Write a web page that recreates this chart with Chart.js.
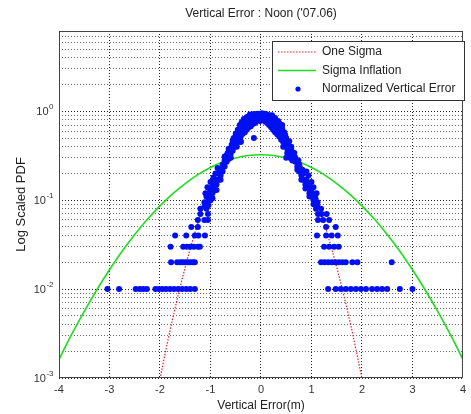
<!DOCTYPE html>
<html>
<head>
<meta charset="utf-8">
<script src="https://cdn.jsdelivr.net/npm/chart.js@4.4.0/dist/chart.umd.min.js"></script>
<style>
  html, body { margin: 0; padding: 0; background: #fff; }
</style>
</head>
<body>
<canvas id="chart" width="471" height="414"></canvas>
<script>
// ---- data ----
const titleText = "Vertical Error : Noon ('07.06)";
const xTitle = 'Vertical Error(m)';
const yTitle = 'Log Scaled PDF';
const seriesNames = ['One Sigma', 'Sigma Inflation', 'Normalized Vertical Error'];

const xTicks = [-4, -3, -2, -1, 0, 1, 2, 3, 4];
const yDecades = [0.001, 0.01, 0.1, 1];
const yExponents = ['-3', '-2', '-1', '0'];
const yGrid = [0.001, 0.002, 0.003, 0.004, 0.005, 0.006, 0.007, 0.008, 0.009,
               0.01, 0.02, 0.03, 0.04, 0.05, 0.06, 0.07, 0.08, 0.09,
               0.1, 0.2, 0.3, 0.4, 0.5, 0.6, 0.7, 0.8, 0.9,
               1, 2, 3, 4, 5, 6, 7, 8];

// red dotted curve (One Sigma)
const sigmaX = [-2.0, -1.9, -1.8, -1.7, -1.6, -1.5, -1.4, -1.3, -1.2, -1.1, -1.0, -0.9, -0.8, -0.7, -0.6, -0.5, -0.4, -0.3, -0.2, -0.1,
                0.0, 0.1, 0.2, 0.3, 0.4, 0.5, 0.6, 0.7, 0.8, 0.9, 1.0, 1.1, 1.2, 1.3, 1.4, 1.5, 1.6, 1.7, 1.8, 1.9, 2.0];
const sigmaY = [0.00098, 0.00187, 0.00346, 0.00615, 0.0106, 0.0177, 0.0286, 0.0447, 0.0676, 0.0988, 0.140, 0.191, 0.253, 0.325, 0.403, 0.483, 0.560, 0.629, 0.683, 0.718,
                0.730, 0.718, 0.683, 0.629, 0.560, 0.483, 0.403, 0.325, 0.253, 0.191, 0.140, 0.0988, 0.0676, 0.0447, 0.0286, 0.0177, 0.0106, 0.00615, 0.00346, 0.00187, 0.00098];

// green curve (Sigma Inflation)
const inflX = [-4, -3.75, -3.5, -3.25, -3, -2.75, -2.5, -2.25, -2, -1.75, -1.5, -1.25, -1, -0.75, -0.5, -0.25,
               0, 0.25, 0.5, 0.75, 1, 1.25, 1.5, 1.75, 2, 2.25, 2.5, 2.75, 3, 3.25, 3.5, 3.75, 4];
const inflY = [0.00162, 0.00309, 0.00563, 0.00984, 0.0165, 0.0266, 0.0410, 0.0609, 0.0864, 0.118, 0.154, 0.194, 0.233, 0.270, 0.299, 0.318,
               0.325, 0.318, 0.299, 0.270, 0.233, 0.194, 0.154, 0.118, 0.0864, 0.0609, 0.0410, 0.0266, 0.0165, 0.00984, 0.00563, 0.00309, 0.00162];

// blue dots (Normalized Vertical Error), [x, pdf]
const errPts = [
  // left tail
  [-3.04,0.01],[-2.81,0.01],[-2.48,0.01],[-2.40,0.01],[-2.33,0.01],[-2.26,0.01],[-2.09,0.01],[-2.02,0.01],[-1.95,0.01],
  [-1.88,0.01],[-1.80,0.01],[-1.72,0.01],[-1.64,0.01],[-1.56,0.01],[-1.48,0.01],[-1.40,0.01],[-1.31,0.01],
  [-1.78,0.02],[-1.66,0.02],[-1.60,0.02],[-1.55,0.02],[-1.50,0.02],[-1.45,0.02],[-1.40,0.02],[-1.35,0.02],[-1.31,0.02],
  [-1.79,0.03],[-1.54,0.03],[-1.47,0.03],[-1.40,0.03],[-1.33,0.03],[-1.25,0.03],[-1.21,0.03],
  [-1.70,0.04],[-1.48,0.04],[-1.31,0.04],[-1.24,0.04],[-1.11,0.04],
  [-1.38,0.05],[-1.25,0.05],
  [-1.25,0.06],[-1.12,0.06],[-1.05,0.06],
  [-1.20,0.07],[-1.05,0.07],
  [-1.20,0.08],[-1.08,0.08],
  // central band
  [-1.12,0.085],[-1.12,0.095],[-1.08,0.09],[-1.08,0.11],
  [-1.04,0.10],[-1.04,0.12],[-1.04,0.088],[-1.00,0.11],[-1.00,0.13],
  [-0.96,0.12],[-0.96,0.14],[-0.96,0.105],[-0.92,0.13],[-0.92,0.155],
  [-0.88,0.15],[-0.88,0.17],[-0.88,0.13],[-0.84,0.17],[-0.84,0.20],
  [-0.80,0.19],[-0.80,0.22],[-0.80,0.17],[-0.76,0.21],[-0.76,0.25],
  [-0.72,0.24],[-0.72,0.28],[-0.72,0.31],[-0.68,0.27],[-0.68,0.32],
  [-0.64,0.29],[-0.64,0.34],[-0.64,0.38],[-0.60,0.33],[-0.60,0.37],
  [-0.56,0.36],[-0.56,0.42],[-0.56,0.47],[-0.52,0.40],[-0.52,0.46],
  [-0.48,0.44],[-0.48,0.50],[-0.48,0.55],[-0.44,0.48],[-0.44,0.55],
  [-0.40,0.52],[-0.40,0.60],[-0.40,0.45],[-0.36,0.56],[-0.36,0.63],
  [-0.32,0.58],[-0.32,0.67],[-0.32,0.74],[-0.28,0.62],[-0.28,0.70],
  [-0.24,0.66],[-0.24,0.74],[-0.24,0.82],[-0.20,0.68],[-0.20,0.78],
  [-0.16,0.72],[-0.16,0.82],[-0.16,0.90],[-0.12,0.74],[-0.12,0.85],
  [-0.08,0.78],[-0.08,0.88],[-0.08,0.93],[-0.04,0.80],[-0.04,0.92],
  [-0.06,0.94],[0.02,0.95],
  [0.00,0.82],[0.00,0.93],[0.00,0.88],[0.04,0.80],[0.04,0.92],
  [0.08,0.78],[0.08,0.87],[0.08,0.94],[0.12,0.74],[0.12,0.84],
  [0.16,0.70],[0.16,0.80],[0.16,0.90],[0.20,0.66],[0.20,0.76],
  [0.24,0.62],[0.24,0.72],[0.24,0.80],[0.28,0.58],[0.28,0.68],
  [0.32,0.55],[0.32,0.64],[0.32,0.72],[0.36,0.52],[0.36,0.60],
  [0.36,0.74],[0.42,0.70],
  [0.40,0.48],[0.40,0.55],[0.40,0.63],[0.44,0.45],[0.44,0.50],
  [0.48,0.42],[0.48,0.47],[0.48,0.54],[0.52,0.38],[0.52,0.44],
  [0.56,0.35],[0.56,0.40],[0.56,0.46],[0.60,0.32],[0.60,0.37],
  [0.64,0.29],[0.64,0.34],[0.64,0.31],[0.68,0.27],[0.68,0.30],
  [0.72,0.24],[0.72,0.27],[0.72,0.22],[0.76,0.21],[0.76,0.25],
  [0.80,0.19],[0.80,0.22],[0.80,0.17],[0.84,0.17],[0.84,0.20],
  [0.88,0.15],[0.88,0.17],[0.88,0.135],[0.92,0.14],[0.92,0.155],
  [0.96,0.12],[0.96,0.14],[0.96,0.11],[1.00,0.11],[1.00,0.125],
  [1.04,0.10],[1.04,0.115],[1.04,0.09],[1.08,0.09],[1.08,0.105],
  [1.12,0.085],[1.12,0.095],
  // outer edge of the band
  [-1.00,0.10],[-0.94,0.13],[-0.86,0.17],[-0.78,0.22],[-0.70,0.28],[-0.66,0.34],[-0.58,0.42],[-0.54,0.50],
  [-0.50,0.56],[-0.46,0.62],[-0.42,0.70],[-0.38,0.76],[-0.34,0.82],[-0.28,0.86],[-0.22,0.92],
  [0.22,0.90],[0.28,0.84],[0.34,0.78],[0.38,0.70],[0.42,0.64],[0.46,0.58],[0.50,0.50],[0.54,0.42],
  [0.60,0.40],[0.66,0.34],[0.74,0.28],[0.82,0.22],[0.90,0.17],[0.98,0.13],[1.06,0.11],
  [-0.14,0.93],[-0.10,0.90],[0.06,0.93],[0.12,0.92],[0.18,0.88],[-0.18,0.86],[0.10,0.82],[-0.02,0.78],[0.20,0.70],
  [-0.48,0.40],[-0.40,0.46],[-0.60,0.30],[0.44,0.40],[0.52,0.34],[0.62,0.28],
  [-1.10,0.12],[-1.06,0.14],[-1.00,0.16],[-0.94,0.18],[-0.90,0.20],[-0.86,0.23],
  [1.10,0.12],[1.04,0.14],[1.00,0.16],[0.94,0.19],[0.90,0.21],
  [-0.14,0.50],[0.50,0.30],[0.57,0.30],
  // right tail
  [1.09,0.08],[1.19,0.08],
  [1.13,0.07],[1.20,0.07],[1.30,0.07],
  [1.13,0.06],[1.23,0.06],[1.35,0.06],
  [1.29,0.05],[1.48,0.05],
  [1.11,0.04],[1.29,0.04],[1.40,0.04],[1.52,0.04],
  [1.25,0.03],[1.35,0.03],[1.45,0.03],[1.54,0.03],
  [1.19,0.02],[1.26,0.02],[1.33,0.02],[1.40,0.02],[1.47,0.02],[1.54,0.02],[1.61,0.02],[1.68,0.02],[1.81,0.02],[1.91,0.02],[2.59,0.02],
  [1.33,0.01],[1.48,0.01],[1.58,0.01],[1.68,0.01],[1.78,0.01],[1.88,0.01],[1.98,0.01],[2.08,0.01],[2.20,0.01],[2.30,0.01],
  [2.40,0.01],[2.50,0.01],[2.75,0.01],[3.00,0.01]
];

// ---- styling ----
const FONT = '"Liberation Sans", Arial, Helvetica, sans-serif';
const RED = '#e0242a';
const GREEN = '#1fdc1f';
const BLUE = '#0010f0';

// titles, y tick labels with superscripts, box and legend drawn on top
const decorations = {
  id: 'decorations',
  afterDraw(chart) {
    const { ctx, chartArea: a, scales } = chart;
    ctx.save();

    // axes box
    ctx.strokeStyle = '#444';
    ctx.lineWidth = 1;
    ctx.strokeRect(a.left + 0.5, a.top + 0.5, a.right - a.left - 1, a.bottom - a.top - 1);

    ctx.fillStyle = '#222';
    // title
    ctx.font = '12px ' + FONT;
    ctx.textAlign = 'center';
    ctx.textBaseline = 'middle';
    ctx.fillText(titleText, (a.left + a.right) / 2, 14);

    // x title
    ctx.fillText(xTitle, (a.left + a.right) / 2, 406);

    // y title
    ctx.save();
    ctx.translate(21, (a.top + a.bottom) / 2);
    ctx.rotate(-Math.PI / 2);
    ctx.font = '13px ' + FONT;
    ctx.fillText(yTitle, 0, 0);
    ctx.restore();

    // y tick labels 10^n
    ctx.fillStyle = '#333';
    ctx.textAlign = 'left';
    yDecades.forEach((v, i) => {
      const py = scales.y.getPixelForValue(v);
      ctx.font = '11px ' + FONT;
      const w1 = ctx.measureText('10').width;
      ctx.font = '8px ' + FONT;
      const w2 = ctx.measureText(yExponents[i]).width;
      const x0 = 53 - w1 - w2;
      ctx.font = '11px ' + FONT;
      ctx.fillText('10', x0, py + 1);
      ctx.font = '8px ' + FONT;
      ctx.fillText(yExponents[i], x0 + w1 + 0.5, py - 4);
    });

    // legend
    const L = { left: 272, top: 41, right: 464, bottom: 100 };
    ctx.fillStyle = '#fff';
    ctx.fillRect(L.left, L.top, L.right - L.left, L.bottom - L.top);
    ctx.strokeStyle = '#333';
    ctx.strokeRect(L.left + 0.5, L.top + 0.5, L.right - L.left, L.bottom - L.top);
    const rows = [52, 70.5, 89];
    // red dotted sample
    ctx.strokeStyle = RED;
    ctx.lineWidth = 1.2;
    ctx.setLineDash([1.5, 1.5]);
    ctx.beginPath(); ctx.moveTo(278, rows[0]); ctx.lineTo(316, rows[0]); ctx.stroke();
    ctx.setLineDash([]);
    // green sample
    ctx.strokeStyle = GREEN;
    ctx.lineWidth = 1.6;
    ctx.beginPath(); ctx.moveTo(278, rows[1]); ctx.lineTo(316, rows[1]); ctx.stroke();
    // blue dot
    ctx.fillStyle = BLUE;
    ctx.beginPath(); ctx.arc(298, rows[2], 2.6, 0, Math.PI * 2); ctx.fill();
    ctx.fillStyle = '#222';
    ctx.font = '12px ' + FONT;
    ctx.textBaseline = 'middle';
    seriesNames.forEach((s, i) => ctx.fillText(s, 322, rows[i]));

    ctx.restore();
  }
};

new Chart(document.getElementById('chart').getContext('2d'), {
  type: 'scatter',
  data: {
    datasets: [
      {
        label: seriesNames[0],
        type: 'line',
        data: sigmaX.map((x, i) => ({ x, y: sigmaY[i] })),
        borderColor: RED,
        borderWidth: 1.2,
        borderDash: [1.5, 1.5],
        pointRadius: 0,
        fill: false,
        order: 2
      },
      {
        label: seriesNames[1],
        type: 'line',
        data: inflX.map((x, i) => ({ x, y: inflY[i] })),
        borderColor: GREEN,
        borderWidth: 1.6,
        pointRadius: 0,
        tension: 0.3,
        fill: false,
        order: 1
      },
      {
        label: seriesNames[2],
        data: errPts.map(p => ({ x: p[0], y: p[1] })),
        backgroundColor: BLUE,
        borderWidth: 0,
        pointRadius: 3,
        order: 0
      }
    ]
  },
  options: {
    responsive: false,
    animation: false,
    devicePixelRatio: 1,
    layout: { padding: { left: 0, top: 31, right: 3, bottom: 0 } },
    plugins: {
      legend: { display: false },
      title: { display: false },
      tooltip: { enabled: false }
    },
    scales: {
      x: {
        type: 'linear',
        min: -4,
        max: 4,
        afterBuildTicks: s => { s.ticks = xTicks.map(v => ({ value: v })); },
        afterFit: s => { s.height = 36; },
        ticks: {
          color: '#333',
          font: { family: FONT, size: 11 },
          padding: 5,
          maxRotation: 0,
          autoSkip: false
        },
        grid: { color: '#222', lineWidth: 1, drawTicks: false },
        border: { display: false, dash: [1, 2] }
      },
      y: {
        type: 'logarithmic',
        min: 0.001,
        max: 8,
        afterBuildTicks: s => { s.ticks = yGrid.map(v => ({ value: v })); },
        afterFit: s => { s.width = 59; },
        ticks: { display: false, autoSkip: false },
        grid: {
          color: c => (yDecades.includes(c.tick && c.tick.value) ? '#222' : '#6a6a6a'),
          lineWidth: 1,
          drawTicks: false
        },
        border: { display: false, dash: [1, 2] }
      }
    }
  },
  plugins: [decorations]
});
</script>
</body>
</html>
